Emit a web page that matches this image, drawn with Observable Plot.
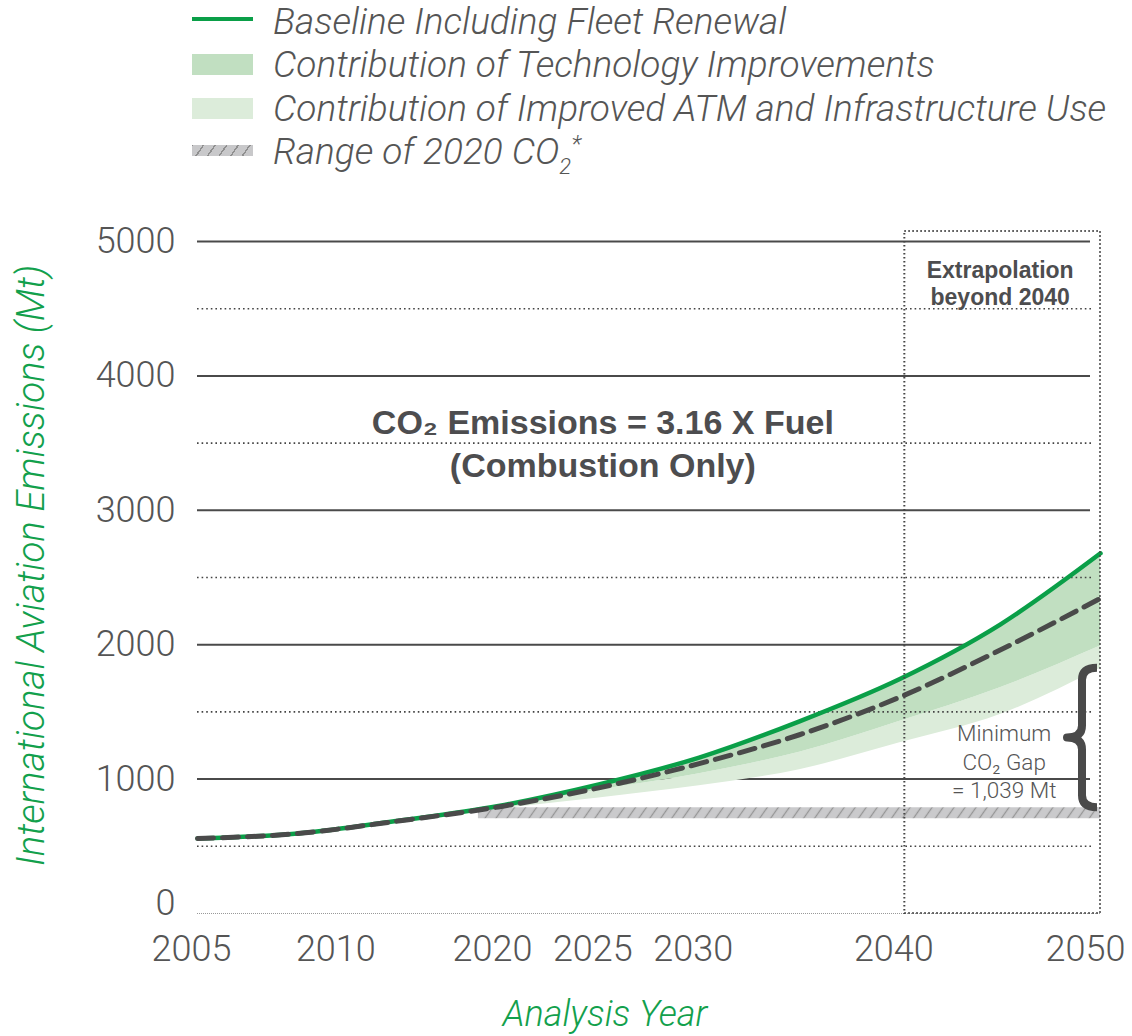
<!DOCTYPE html>
<html>
<head>
<meta charset="utf-8">
<script src="https://cdn.jsdelivr.net/npm/d3@7"></script>
<script src="https://cdn.jsdelivr.net/npm/@observablehq/plot@0.6"></script>
<style>
  html, body { margin: 0; padding: 0; background: #fff; }
  body { width: 1132px; height: 1036px; overflow: hidden; font-family: Roboto, "Liberation Sans", sans-serif; }
  #legend { position: relative; height: 185px; }
  .sw { position: absolute; left: 192px; width: 61px; }
  .lab { position: absolute; left: 273px; white-space: nowrap; font-style: italic; font-weight: 300;
         font-size: 37px; line-height: 44px; color: #555; }
  .lab sub { font-size: 22px; vertical-align: -10px; line-height: 0; }
  .lab sup { font-size: 24px; vertical-align: 12px; line-height: 0; }
</style>
</head>
<body>
<div id="legend"></div>
<div id="chart"></div>
<script>
// ---- data ----
const years = [2005, 2010, 2015, 2020, 2025, 2030, 2035, 2040, 2045, 2050];
const baseline = [558, 595, 690, 800, 960, 1160, 1430, 1745, 2150, 2680];          // Baseline incl. fleet renewal
const technologyMid = [558, 595, 688, 793, 935, 1115, 1330, 1610, 1960, 2345];     // dashed line
const technologyLower = [558, 595, 688, 790, 918, 1040, 1200, 1430, 1680, 1990];   // lower edge of technology band
const atmLower = [558, 595, 686, 777, 860, 950, 1070, 1270, 1480, 1825];           // lower edge of ATM band
const rangeYears = [2019, 2050];
const rangeLow = 705;
const rangeHigh = 786;
const xTicksMain = [2005, 2020, 2025, 2030, 2040];
const xTick2010 = [2010];
const xTick2050 = [2050];
const ySolid = [1000, 2000, 3000, 4000, 5000];
const yDotted = [500, 1500, 2500, 3500, 4500];
const yTicks = [1000, 2000, 3000, 4000, 5000];
const yTickZero = [0];
const extrapolation = [{x1: 2040, x2: 2050, y1: 0, y2: 5075}];
const legendItems = [
  {kind: "line", label: "Baseline Including Fleet Renewal"},
  {kind: "dark", label: "Contribution of Technology Improvements"},
  {kind: "light", label: "Contribution of Improved ATM and Infrastructure Use"},
  {kind: "hatch", label: "Range of 2020 CO<sub>2</sub><sup>*</sup>"}
];
const titleNote = {year: 2025.2, value: 3510, text: "CO₂ Emissions = 3.16 X Fuel\n(Combustion Only)"};
const extrapNote = {year: 2045, value: 4695, text: "Extrapolation\nbeyond 2040"};
const gapNote = {year: 2045.2, value: 1138, text: "Minimum\nCO₂ Gap\n= 1,039 Mt"};

// ---- colours ----
const GREEN = "#0a9f48";
const DARK = "#c1dfc1";
const LIGHT = "#dcecda";
const GREY = "#4a4a4a";

// ---- legend ----
const legend = document.getElementById("legend");
const swatchStyle = {
  line: `top:17px;height:4px;background:${GREEN};`,
  dark: `top:54px;height:21px;background:${DARK};`,
  light: `top:98px;height:21px;background:${LIGHT};`,
  hatch: `top:145px;height:11px;background:repeating-linear-gradient(-55deg,#c8c8ca 0 8px,#8f8f8f 8px 9.5px);`
};
const labelTops = [0, 43, 87, 130];
legendItems.forEach((d, i) => {
  const sw = document.createElement("div");
  sw.className = "sw";
  sw.style.cssText = swatchStyle[d.kind];
  legend.appendChild(sw);
  const lab = document.createElement("div");
  lab.className = "lab";
  lab.style.top = labelTops[i] + "px";
  lab.innerHTML = d.label;
  legend.appendChild(lab);
});

// ---- table ----
const rows = years.map((year, i) => ({
  year, baseline: baseline[i], mid: technologyMid[i], tech: technologyLower[i], atm: atmLower[i]
}));
const rangeRows = rangeYears.map(year => ({year, low: rangeLow, high: rangeHigh}));
const curve = "monotone-x";

// brace drawn from the scales
function brace(index, scales) {
  const x = scales.x, y = scales.y;
  const xr = x(2050) - 3, w = 30;
  const yt = y(atmLower[atmLower.length - 1]), yb = y(rangeHigh), ym = (yt + yb) / 2;
  const xm = xr - w / 2, xl = xr - w, r = 12;
  const d = `M${xr},${yt} Q${xm},${yt} ${xm},${yt + r} L${xm},${ym - r} Q${xm},${ym} ${xl},${ym} ` +
            `Q${xm},${ym} ${xm},${ym + r} L${xm},${yb - r} Q${xm},${yb} ${xr},${yb}`;
  const g = d3.create("svg:g");
  g.append("path").attr("d", d).attr("fill", "none").attr("stroke", GREY)
    .attr("stroke-width", 8).attr("stroke-linejoin", "round");
  return g.node();
}

const tickFmt = d => String(d);
const axisFont = 36;

const chart = Plot.plot({
  width: 1132,
  height: 851,
  marginLeft: 197,
  marginRight: 32,
  marginTop: 56,
  marginBottom: 123,
  x: {domain: [2005, 2050], label: null},
  y: {domain: [0, 5000], label: null},
  style: "font-family: Roboto, 'Liberation Sans', sans-serif; font-weight: 300; color: #555; background: #fff; overflow: visible;",
  marks: [
    Plot.ruleY(ySolid, {stroke: GREY, strokeWidth: 2, insetRight: 10}),
    Plot.ruleY([0], {stroke: "#999", strokeWidth: 1, strokeDasharray: "1,1"}),
    Plot.areaY(rangeRows, {x: "year", y1: "low", y2: "high", fill: "url(#hatch)"}),
    Plot.areaY(rows, {x: "year", y1: "atm", y2: "tech", fill: LIGHT, curve}),
    Plot.areaY(rows, {x: "year", y1: "tech", y2: "baseline", fill: DARK, curve}),
    Plot.ruleY(yDotted, {stroke: "#444", strokeWidth: 1.6, strokeDasharray: "1.6,3", insetRight: 8}),
    Plot.lineY(rows, {x: "year", y: "baseline", stroke: GREEN, strokeWidth: 4.5, curve}),
    Plot.lineY(rows, {x: "year", y: "mid", stroke: GREY, strokeWidth: 5, strokeDasharray: "16,9", curve}),
    Plot.rect(extrapolation, {x1: "x1", x2: "x2", y1: "y1", y2: "y2", fill: "none", stroke: "#444",
      strokeWidth: 2, strokeDasharray: "1.5,2.5", insetLeft: 5}),
    brace,
    Plot.text([titleNote], {x: "year", y: "value", text: "text", fontFamily: "'Liberation Sans', Arial, sans-serif",
      fontWeight: "bold", fontSize: 34, fill: "#4d4d4f", lineHeight: 1.27}),
    Plot.text([extrapNote], {x: "year", y: "value", text: "text", fontFamily: "'Liberation Sans', Arial, sans-serif",
      fontWeight: "bold", fontSize: 23, fill: "#4d4d4f", lineHeight: 1.17}),
    Plot.text([gapNote], {x: "year", y: "value", text: "text", fontSize: 22.5, fill: "#555", lineHeight: 1.26}),
    Plot.axisY({ticks: yTicks, tickSize: 0, tickPadding: 22, fontSize: axisFont, tickFormat: tickFmt, label: null}),
    Plot.axisY({ticks: yTickZero, tickSize: 0, tickPadding: 22, fontSize: axisFont, tickFormat: tickFmt, label: null, dy: -10}),
    Plot.axisX({ticks: xTicksMain, tickSize: 0, tickPadding: 22, fontSize: axisFont, tickFormat: tickFmt, label: null, dx: -6}),
    Plot.axisX({ticks: xTick2010, tickSize: 0, tickPadding: 22, fontSize: axisFont, tickFormat: tickFmt, label: null, dx: 38}),
    Plot.axisX({ticks: xTick2050, tickSize: 0, tickPadding: 22, fontSize: axisFont, tickFormat: tickFmt, label: null, dx: -15}),
    Plot.text(["International Aviation Emissions (Mt)"], {text: d => d, frameAnchor: "left", textAnchor: "middle",
      rotate: -90, dx: -166, dy: -12, fontSize: 38.5, fontStyle: "italic", fill: "#12a04c"}),
    Plot.text(["Analysis Year"], {text: d => d, frameAnchor: "bottom", textAnchor: "middle", dx: -44, dy: 112,
      fontSize: 36, fontStyle: "italic", fill: "#12a04c"})
  ]
});

const svg = d3.select(chart.tagName === "svg" ? chart : chart.querySelector("svg"));
const defs = svg.insert("defs", ":first-child");
const pat = defs.append("pattern").attr("id", "hatch").attr("patternUnits", "userSpaceOnUse")
  .attr("width", 9).attr("height", 9).attr("patternTransform", "rotate(35)");
pat.append("rect").attr("width", 9).attr("height", 9).attr("fill", "#cacacc");
pat.append("line").attr("x1", 4.5).attr("y1", 0).attr("x2", 4.5).attr("y2", 9)
  .attr("stroke", "#959595").attr("stroke-width", 1.3);

document.getElementById("chart").appendChild(chart);
</script>
</body>
</html>
